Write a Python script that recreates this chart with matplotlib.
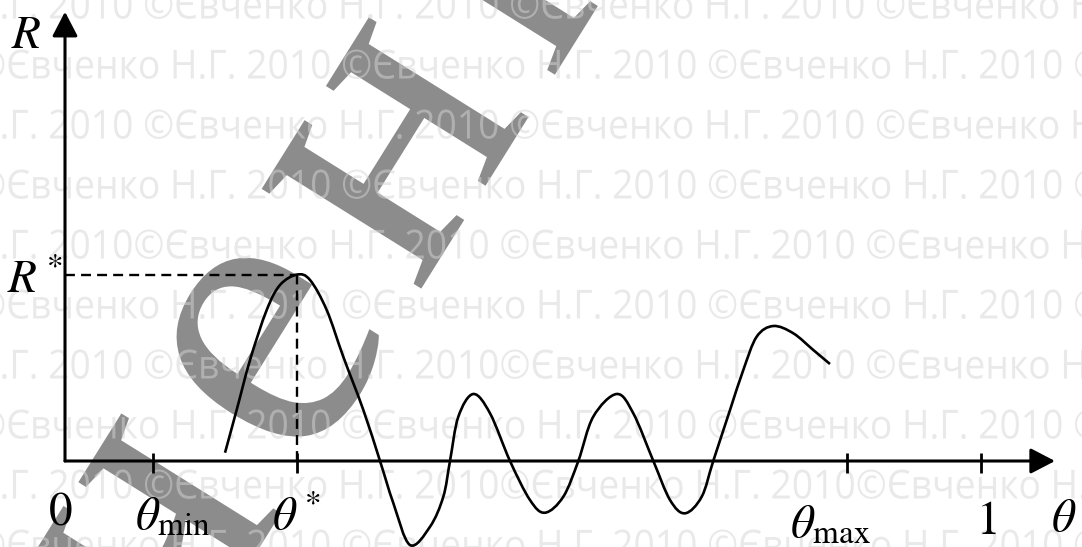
import numpy as np
import matplotlib
matplotlib.use("Agg")
import matplotlib.pyplot as plt
from matplotlib.path import Path
from matplotlib.patches import PathPatch
from matplotlib.textpath import TextPath
from matplotlib.font_manager import FontProperties
from matplotlib.transforms import Affine2D, IdentityTransform

plt.rcParams["mathtext.fontset"] = "stix"

W, H = 1082, 547

# curve R(theta), read point by point
theta = [0.1747, 0.1874, 0.2020, 0.2202, 0.2347, 0.2533, 0.2675, 0.2857, 0.3038,
         0.3257, 0.3439, 0.3584, 0.3766, 0.3985, 0.4130, 0.4203, 0.4294, 0.4457,
         0.4640, 0.4858, 0.5076, 0.5240, 0.5440, 0.5604, 0.5767, 0.6023, 0.6204,
         0.6423, 0.6605, 0.6769, 0.6951, 0.7077, 0.7260, 0.7405, 0.7551, 0.7733,
         0.7951, 0.8169, 0.8351]
R = [0.0445, 0.2736, 0.5418, 0.8101, 0.9442, 1.0, 0.9710, 0.8101, 0.5595,
     0.2736, 0.0, -0.2253, -0.4506, -0.3525, -0.1915, 0.0, 0.2377, 0.3594,
     0.2559, 0.0, -0.2092, -0.2774, -0.1915, 0.0, 0.2377, 0.3594, 0.2559,
     0.0, -0.2092, -0.2806, -0.1915, 0.0, 0.2736, 0.4882, 0.6668, 0.7242,
     0.6851, 0.5955, 0.5204]

theta_min, theta_star, theta_max = 0.0961, 0.2533, 0.8537
R_star = 1.0
tick_theta = [theta_min, theta_star, theta_max, 1.0]

# background copyright lines
wm_rows = [
    "Н.Г. 2010 ©Євченко Н.Г. 2010 ©Євченко Н.Г. 2010 ©Євченко Н.Г.",
    "©Євченко Н.Г. 2010 ©Євченко Н.Г. 2010 ©Євченко Н.Г. 2010 ©Євченко",
    "Н.Г. 2010 ©Євченко Н.Г. 2010 ©Євченко Н.Г. 2010 ©Євченко Н.Г.",
    "©Євченко Н.Г. 2010 ©Євченко Н.Г. 2010 ©Євченко Н.Г. 2010 ©Євченко",
    "Н.Г. 2010©Євченко Н.Г. 2010 ©Євченко Н.Г. 2010 ©Євченко Н.Г.",
    "©Євченко Н.Г. 2010 ©Євченко Н.Г. 2010 ©Євченко Н.Г. 2010 ©Євченко",
    "Н.Г. 2010 ©Євченко Н.Г. 2010©Євченко Н.Г. 2010 ©Євченко Н.Г.",
    "©Євченко Н.Г. 2010 ©Євченко Н.Г. 2010 ©Євченко Н.Г. 2010 ©Євченко",
    "Н.Г. 2010 ©Євченко Н.Г. 2010©Євченко Н.Г. 2010©Євченко Н.Г.",
    "©Євченко Н.Г. 2010 ©Євченко Н.Г. 2010 ©Євченко Н.Г. 2010 ©Євченко",
]
big_word = "Євченко"


def ink(s, prop):
    return TextPath((0, 0), s, size=1, prop=prop).get_extents()


def smooth_path(xs, ys):
    # Catmull-Rom through the points, as cubic Bezier segments
    pts = np.column_stack([xs, ys])
    n = len(pts)
    verts, codes = [pts[0]], [Path.MOVETO]
    for i in range(n - 1):
        p0, p1 = pts[max(i - 1, 0)], pts[i]
        p2, p3 = pts[i + 1], pts[min(i + 2, n - 1)]
        verts += [p1 + (p2 - p0) / 6, p2 - (p3 - p1) / 6, p2]
        codes += [Path.CURVE4] * 3
    return Path(verts, codes)


fig = plt.figure(figsize=(W / 100, H / 100), dpi=100)
ax = fig.add_axes([0, 0, 1, 1])
ax.set_xlim(-65 / 916, (W - 65) / 916)
ax.set_ylim(-(H - 461) / 186.4, 461 / 186.4)
ax.axis("off")

# big diagonal name, letter by letter with extra tracking
fp_big = FontProperties(family="Liberation Serif")
bar = ink("|", fp_big).x1
track = 0.08
x = 0.0
verts, codes = [], []
e_center = None
for k, ch in enumerate(big_word):
    gp = TextPath((0, 0), ch, size=1, prop=fp_big)
    verts.append(gp.vertices + [x, 0])
    codes.append(gp.codes)
    if k == 3:
        b = gp.get_extents()
        e_center = (x + (b.x0 + b.x1) / 2, (b.y0 + b.y1) / 2)
    x += ink(ch + "|", fp_big).x1 - bar + track
word = Path(np.concatenate(verts), np.concatenate(codes))
tr = (Affine2D().translate(-e_center[0], -e_center[1]).scale(410)
      .rotate_deg(58).translate(272, H - 349))
ax.add_patch(PathPatch(tr.transform_path(word), facecolor="#8c8c8c", edgecolor="none",
                       transform=IdentityTransform(), zorder=0))

# light repeated lines
fp_wm = FontProperties(family="Open Sans")
unit = "©Євченко Н.Г. 2010 "
period = ink(unit + "©", fp_wm).x1 - ink("©", fp_wm).x1
two = ink("2", fp_wm)
sx = 366 / period
sy = 29 / two.y1
for i, s in enumerate(wm_rows):
    base = H - (4 + 60 * i + 14.5)
    x2010 = 50 if i % 2 == 0 else 248
    pre = s[:s.index("2010")]
    left = ink(pre + "2", fp_wm).x1 - two.x1 + two.x0
    x0 = x2010 - sx * left
    p = Affine2D().scale(sx, sy).translate(x0, base).transform_path(
        TextPath((0, 0), s, size=1, prop=fp_wm))
    ax.add_patch(PathPatch(p, facecolor="#d4d4d4", edgecolor="none", alpha=0.5,
                           transform=IdentityTransform(), zorder=1))

# axes with arrows
arrow = dict(arrowstyle="-|>,head_length=0.5,head_width=0.26", mutation_scale=30,
             lw=2.2, color="k", shrinkA=0, shrinkB=0)
ax.annotate("", xy=(1.0808, 0), xytext=(0, 0), arrowprops=arrow, zorder=5)
ax.annotate("", xy=(0, 2.410), xytext=(0, 0), arrowprops=arrow, zorder=5)
ax.vlines(tick_theta, -0.064, 0.043, color="k", lw=2.0, zorder=5)

# guide lines to the maximum
ax.plot([0, theta_star], [R_star, R_star], color="k", lw=1.7, dashes=(4.2, 2.6), zorder=4)
ax.plot([theta_star, theta_star], [0, R_star], color="k", lw=1.7, dashes=(4.2, 2.6), zorder=4)

ax.add_patch(PathPatch(smooth_path(theta, R), facecolor="none", edgecolor="k",
                       lw=1.9, zorder=6))

fs = 34
ax.text(-0.0426, 2.216, "$R$", fontsize=fs, ha="center", va="baseline")
ax.text(-0.0633, 0.901, "$R^*$", fontsize=fs, ha="left", va="baseline")
ax.text(-0.0055, -0.343, "$0$", fontsize=fs, ha="center", va="baseline")
ax.text(0.0764, -0.370, r"$\theta_{\min}$", fontsize=fs, ha="left", va="baseline")
ax.text(0.226, -0.370, r"$\theta^*$", fontsize=fs, ha="left", va="baseline")
ax.text(0.7915, -0.413, r"$\theta_{\max}$", fontsize=fs, ha="left", va="baseline")
ax.text(1.0055, -0.392, "$1$", fontsize=fs, ha="center", va="baseline")
ax.text(1.0764, -0.375, r"$\theta$", fontsize=fs, ha="left", va="baseline")

fig.savefig("out.png", dpi=100, facecolor="white")
